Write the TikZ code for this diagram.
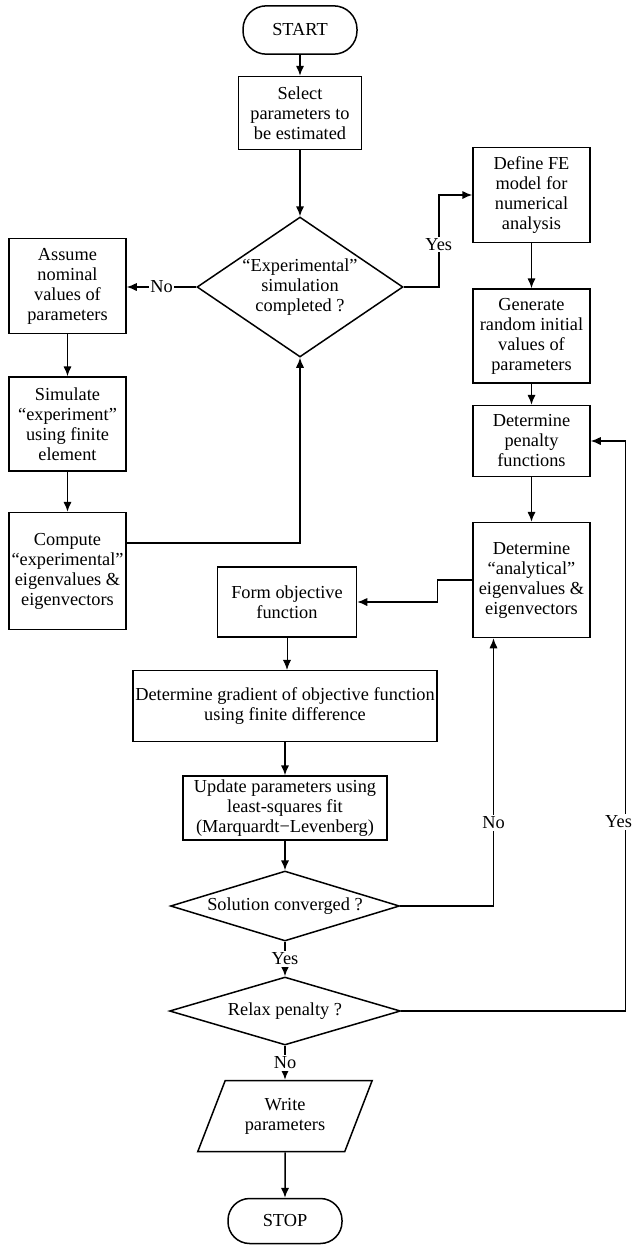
\documentclass[tikz,border=0pt]{standalone}
\usepackage{fontspec}
\setmainfont{Liberation Serif}
\usetikzlibrary{arrows.meta, shapes.geometric}

\begin{document}
\begin{tikzpicture}[x = 0.6pt, y = -0.6pt, font = \fontsize{11}{12}\selectfont,
	box/.style = {draw, rectangle, align = center, inner sep = 1pt, line width = 0.9pt, minimum width = 70.2pt},
	term/.style = {draw, rectangle, rounded corners = 14pt, minimum width = 68.4pt, minimum height = 29pt, line width = 0.9pt},
	test/.style = {draw, diamond, align = center, inner sep = 0pt, line width = 0.9pt},
	io/.style = {draw, trapezium, trapezium left angle = 64, trapezium right angle = 116, trapezium stretches = true, align = center, inner sep = 1pt, line width = 0.9pt},
	edge/.style = {line width = 0.9pt, arrows = {-Latex[width = 5pt, length = 6pt]}},
	thinedge/.style = {edge, line width = 0.45pt},
	lbl/.style = {fill = white, inner sep = 1pt}]
	\useasboundingbox (0,0) rectangle (634,1245);
	% main column
	\node[term] (start) at (300,30) {START};
	\node[box, minimum width = 73.8pt, minimum height = 43.8pt] (select) at (300,113) {Select\\parameters to\\be estimated};
	\node[test, shape aspect = 1.47, minimum width = 123.6pt, minimum height = 84pt] (expq) at (300,287) {``Experimental''\\simulation\\completed ?};
	% left column
	\node[box, minimum height = 57pt] (assume) at (67.5,286) {Assume\\nominal\\values of\\parameters};
	\node[box, minimum height = 56.4pt] (simulate) at (67.5,424) {Simulate\\``experiment''\\using finite\\element};
	\node[box, minimum height = 70.2pt] (compute) at (67.5,571) {Compute\\``experimental''\\eigenvalues \&\\eigenvectors};
	% right column
	\node[box, minimum height = 57pt] (define) at (531.5,195) {Define FE\\model for\\numerical\\analysis};
	\node[box, minimum height = 56.4pt] (generate) at (531.5,336) {Generate\\random initial\\values of\\parameters};
	\node[box, minimum height = 42.6pt] (penalty) at (531.5,441) {Determine\\penalty\\functions};
	\node[box, minimum height = 69pt] (analyt) at (531.5,580) {Determine\\``analytical''\\eigenvalues \&\\eigenvectors};
	% lower column
	\node[box, minimum width = 83.4pt, minimum height = 42pt] (form) at (287,602) {Form objective\\function};
	\node[box, minimum width = 182.4pt, minimum height = 42.6pt] (gradient) at (285,706) {Determine gradient of objective function\\using finite difference};
	\node[box, minimum width = 122.4pt, minimum height = 38.4pt] (update) at (285,808) {Update parameters using\\least-squares fit\\(Marquardt−Levenberg)};
	\node[test, shape aspect = 3.3, minimum width = 137.4pt, minimum height = 42pt] (solved) at (285,906) {Solution converged ?};
	\node[test, shape aspect = 3.3, minimum width = 138.6pt, minimum height = 40.8pt] (relax) at (285,1011) {Relax penalty ?};
	\node[io, minimum width = 105pt, minimum height = 42.6pt] (write) at (285,1116) {Write\\parameters};
	\node[term, minimum height = 27pt, rounded corners = 13pt] (stop) at (285,1221) {STOP};

	\draw[edge] (start) -- (select);
	\draw[edge] (select) -- (expq);
	\draw[edge] (expq.west) -- node[lbl] {No} (assume.east |- expq.west);
	\draw[edge] (assume) -- (simulate);
	\draw[edge] (simulate) -- (compute);
	\draw[edge] ([yshift=16.8pt]compute.east) -| (expq.south);
	\draw[edge] (expq.east) -- ++(35,0) |- node[lbl, pos=0.23] {Yes} (define.west);
	\draw[edge] (define) -- (generate);
	\draw[edge] (generate) -- (penalty);
	\draw[edge] (penalty) -- (analyt);
	\draw[edge] (analyt.west) -- ++(-35,0) |- (form.east);
	\draw[thinedge] (form.south) -- (form.south |- gradient.north);
	\draw[edge] (gradient) -- (update);
	\draw[edge] (update) -- (solved);
	\draw[edge] (solved.east) -| node[lbl, pos=0.655] {No} ([xshift=-22.8pt]analyt.south);
	\draw[edge] (solved) -- node[lbl] {Yes} (relax);
	\draw[edge] (relax.east) -- ++(224,0) |- node[lbl, pos=0.166, xshift=-4pt] {Yes} (penalty.east);
	\draw[edge] (relax) -- node[lbl] {No} (write);
	\draw[edge] (write) -- (stop);
\end{tikzpicture}
\end{document}
